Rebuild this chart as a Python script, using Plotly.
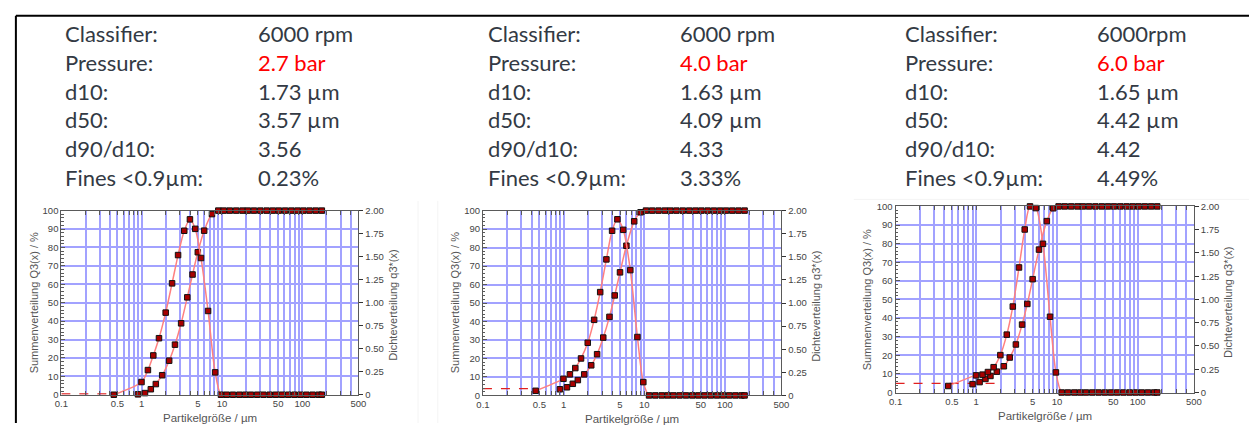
import plotly.graph_objects as go

W, H = 1257, 428

# ---------------- data ----------------
LABELS = ["Classifier:", "Pressure:", "d10:", "d50:", "d90/d10:", "Fines <0.9µm:"]
VALUES_1 = ["6000 rpm", "2.7 bar", "1.73 µm", "3.57 µm", "3.56", "0.23%"]
VALUES_2 = ["6000 rpm", "4.0 bar", "1.63 µm", "4.09 µm", "4.33", "3.33%"]
VALUES_3 = ["6000rpm", "6.0 bar", "1.65 µm", "4.42 µm", "4.42", "4.49%"]

# class upper limits (cumulative Q3) in µm
CUM_X = [0.9, 1.1, 1.3, 1.5, 1.8, 2.2, 2.6, 3.1, 3.7, 4.3, 5.0, 6.0, 7.5, 9.0,
         10.5, 12.5, 15, 18, 21, 25, 30, 36, 43, 51, 61, 73, 87, 103, 123, 147, 175]
# density points (class geometric means, plus end points) in µm
DENS_X = [0.45, 0.995, 1.196, 1.396, 1.643, 1.99, 2.39, 2.84, 3.39, 3.99, 4.64,
          5.48, 6.71, 8.22, 9.72, 11.46, 13.69, 16.43, 19.44, 22.91, 27.39, 32.86,
          39.34, 46.83, 55.78, 66.73, 79.69, 94.66, 112.56, 134.47, 160.39, 175]

Q3_1 = [0.23, 0.9, 3.0, 5.8, 10.6, 18.5, 27.2, 38.8, 52.9, 65.3, 77.4, 89.1, 98.1, 100,
        100, 100, 100, 100, 100, 100, 100, 100, 100, 100, 100, 100, 100, 100, 100, 100, 100]
Q3_2 = [3.33, 4.4, 6.3, 8.3, 11.4, 16.3, 22.3, 31.3, 42.5, 54.1, 66.6, 81.0, 94.2, 99.1,
        100, 100, 100, 100, 100, 100, 100, 100, 100, 100, 100, 100, 100, 100, 100, 100, 100]
Q3_3 = [4.49, 5.6, 7.3, 8.9, 11.2, 14.1, 18.8, 25.8, 36.5, 47.6, 60.9, 76.8, 92.1, 99.0,
        100, 100, 100, 100, 100, 100, 100, 100, 100, 100, 100, 100, 100, 100, 100, 100, 100]

q3_1 = [0.0, 0.138, 0.268, 0.427, 0.614, 0.892, 1.21, 1.517, 1.781, 1.905, 1.802, 1.485,
        0.91, 0.243, 0.0, 0, 0, 0, 0, 0, 0, 0, 0, 0, 0, 0, 0, 0, 0, 0, 0, 0]
q3_2 = [0.05, 0.18, 0.228, 0.296, 0.40, 0.57, 0.818, 1.118, 1.472, 1.782, 1.906, 1.792,
        1.356, 0.632, 0.144, 0, 0, 0, 0, 0, 0, 0, 0, 0, 0, 0, 0, 0, 0, 0, 0, 0]
q3_3 = [0.07, 0.184, 0.192, 0.22, 0.272, 0.402, 0.622, 0.924, 1.344, 1.752, 2.0, 1.982,
        1.598, 0.814, 0.216, 0, 0, 0, 0, 0, 0, 0, 0, 0, 0, 0, 0, 0, 0, 0, 0, 0]

DASH_END = [0.45, 0.46, 2.0]
DASH_LEVEL = [0.5, 3.7, 4.9]

X_GRID = [0.1, 0.2, 0.3, 0.4, 0.5, 0.6, 0.7, 0.8, 0.9,
          1, 2, 3, 4, 5, 6, 7, 8, 9,
          10, 20, 30, 40, 50, 60, 70, 80, 90,
          100, 200, 300, 400, 500]
X_LABELED = {0.1: "0.1", 0.5: "0.5", 1: "1", 5: "5", 10: "10", 50: "50", 100: "100", 500: "500"}
Y_TICKS = [0, 10, 20, 30, 40, 50, 60, 70, 80, 90, 100]
Y2_TICKS = [0, 0.25, 0.5, 0.75, 1.0, 1.25, 1.5, 1.75, 2.0]
Y2_TEXT = ["0", "0.25", "0.50", "0.75", "1.00", "1.25", "1.50", "1.75", "2.00"]

PANELS = [
    dict(values=VALUES_1, q3c=Q3_1, q3d=q3_1, box=(55, 355.7, 210, 399), tx=(57, 252)),
    dict(values=VALUES_2, q3c=Q3_2, q3d=q3_2, box=(481.7, 783.7, 210, 399.7), tx=(485, 679)),
    dict(values=VALUES_3, q3c=Q3_3, q3d=q3_3, box=(899.3, 1201.3, 205.7, 396.7), tx=(907, 1101)),
]
ROW_Y = [28.5, 58, 87.5, 117, 146.5, 176]

# ---------------- styling ----------------
GRID = "#a2a2ff"
FRAME = "#5a5a5a"
TICKFONT = dict(family="Liberation Sans, Arial, sans-serif", size=9.5, color="#444444")
TITLEFONT = dict(family="Liberation Sans, Arial, sans-serif", size=11, color="#555555")
XTITLEFONT = dict(family="Liberation Sans, Arial, sans-serif", size=11.5, color="#555555")
TEXTFONT = "Lato, Open Sans, sans-serif"
TEXTCOL = "#333a44"
LINECOL = "#ff8080"
MARK = dict(symbol="square", size=5.5, color="#a80000", line=dict(color="#111111", width=1))


def px(x):
    return x / W


def py(y):
    return 1 - y / H


fig = go.Figure()
layout = dict(
    width=W, height=H, margin=dict(l=0, r=0, t=0, b=0),
    paper_bgcolor="white", plot_bgcolor="white", showlegend=False,
    annotations=[], shapes=[],
)

for i, p in enumerate(PANELS):
    n = i + 1
    xa = "xaxis" if n == 1 else f"xaxis{n}"
    xref = "x" if n == 1 else f"x{n}"
    yl_n = 2 * n - 1
    yr_n = 2 * n
    yla = "yaxis" if yl_n == 1 else f"yaxis{yl_n}"
    ylref = "y" if yl_n == 1 else f"y{yl_n}"
    yra = f"yaxis{yr_n}"
    yrref = f"y{yr_n}"
    L, R, T, B = p["box"]

    layout[xa] = dict(
        type="log", range=[-1, 2.69897], domain=[px(L), px(R)], anchor=ylref,
        tickvals=X_GRID, ticktext=[X_LABELED.get(v, "") for v in X_GRID],
        showgrid=True, gridcolor=GRID, gridwidth=2,
        ticks="inside", ticklen=4, tickcolor=FRAME, mirror="ticks",
        showline=True, linecolor=FRAME, linewidth=1,
        tickfont=TICKFONT, zeroline=False, tickangle=0,
    )
    layout[yla] = dict(
        range=[0, 100], domain=[py(B), py(T)], anchor=xref,
        tickvals=Y_TICKS, showgrid=True, gridcolor=GRID, gridwidth=2,
        ticks="inside", ticklen=4, tickcolor=FRAME,
        minor=dict(dtick=2, ticks="inside", ticklen=2.5, tickcolor=FRAME, showgrid=False),
        showline=True, linecolor=FRAME, linewidth=1, mirror=True,
        tickfont=TICKFONT, zeroline=False,
    )
    layout[yra] = dict(
        range=[0, 2], overlaying=ylref, anchor=xref, side="right",
        tickvals=Y2_TICKS, ticktext=Y2_TEXT, showgrid=False,
        ticks="outside", ticklen=4, tickcolor="#333333",
        showline=True, linecolor=FRAME, linewidth=1,
        tickfont=TICKFONT, zeroline=False,
    )

    # dashed extrapolation line
    fig.add_trace(go.Scatter(
        x=[0.1, DASH_END[i]], y=[DASH_LEVEL[i], DASH_LEVEL[i]], mode="lines",
        line=dict(color="#e02020", width=1.2, dash="dash"),
        xaxis=xref, yaxis=ylref, hoverinfo="skip"))
    # cumulative distribution Q3
    fig.add_trace(go.Scatter(
        x=CUM_X, y=p["q3c"], mode="lines+markers",
        line=dict(color=LINECOL, width=1.5, shape="spline", smoothing=0.8),
        marker=MARK, cliponaxis=False, xaxis=xref, yaxis=ylref))
    # density distribution q3*
    fig.add_trace(go.Scatter(
        x=DENS_X, y=p["q3d"], mode="lines+markers",
        line=dict(color=LINECOL, width=1.5, shape="spline", smoothing=0.8),
        marker=MARK, cliponaxis=False, xaxis=xref, yaxis=yrref))

    # axis titles
    layout["annotations"].append(dict(
        text="Summenverteilung Q3(x) / %", xref="paper", yref="paper",
        x=px(L - 28), y=py((T + B) / 2), xanchor="center", yanchor="middle",
        textangle=-90, showarrow=False, font=TITLEFONT))
    layout["annotations"].append(dict(
        text="Dichteverteilung q3*(x)", xref="paper", yref="paper",
        x=px(R + 35), y=py((T + B) / 2 + 3), xanchor="center", yanchor="middle",
        textangle=-90, showarrow=False, font=TITLEFONT))
    layout["annotations"].append(dict(
        text="Partikelgröße / µm", xref="paper", yref="paper",
        x=px((L + R) / 2), y=py(B + 24), xanchor="center", yanchor="middle",
        showarrow=False, font=XTITLEFONT))

    # info table
    for r, (lab, val) in enumerate(zip(LABELS, p["values"])):
        layout["annotations"].append(dict(
            text=lab, xref="paper", yref="paper", x=px(p["tx"][0]), y=py(ROW_Y[r]),
            xanchor="left", yanchor="middle", showarrow=False,
            font=dict(family=TEXTFONT, size=22, color=TEXTCOL)))
        layout["annotations"].append(dict(
            text=val, xref="paper", yref="paper", x=px(p["tx"][1]), y=py(ROW_Y[r]),
            xanchor="left", yanchor="middle", showarrow=False,
            font=dict(family=TEXTFONT, size=22, color="#ff0000" if r == 1 else TEXTCOL)))

# faint edges of the pasted chart images
FAINT = dict(color="#f4f4f4", width=1)
for (x0, y0, x1, y1) in [(416, 200, 416, 428), (436, 200, 436, 428), (857, 198.5, 1257, 198.5)]:
    layout["shapes"].append(dict(type="line", xref="paper", yref="paper",
                                 x0=px(x0), x1=px(x1), y0=py(y0), y1=py(y1), line=FAINT))

# outer black frame (top and left edges)
layout["shapes"].append(dict(type="line", xref="paper", yref="paper",
                             x0=px(9), x1=1, y0=py(10), y1=py(10),
                             line=dict(color="black", width=2)))
layout["shapes"].append(dict(type="line", xref="paper", yref="paper",
                             x0=px(9), x1=px(9), y0=0, y1=py(10),
                             line=dict(color="black", width=2)))

fig.update_layout(**layout)
fig.write_html("out.html", include_plotlyjs=True,
               config={"displayModeBar": False},
               post_script="document.body.style.margin='0';document.body.style.overflow='hidden';")
